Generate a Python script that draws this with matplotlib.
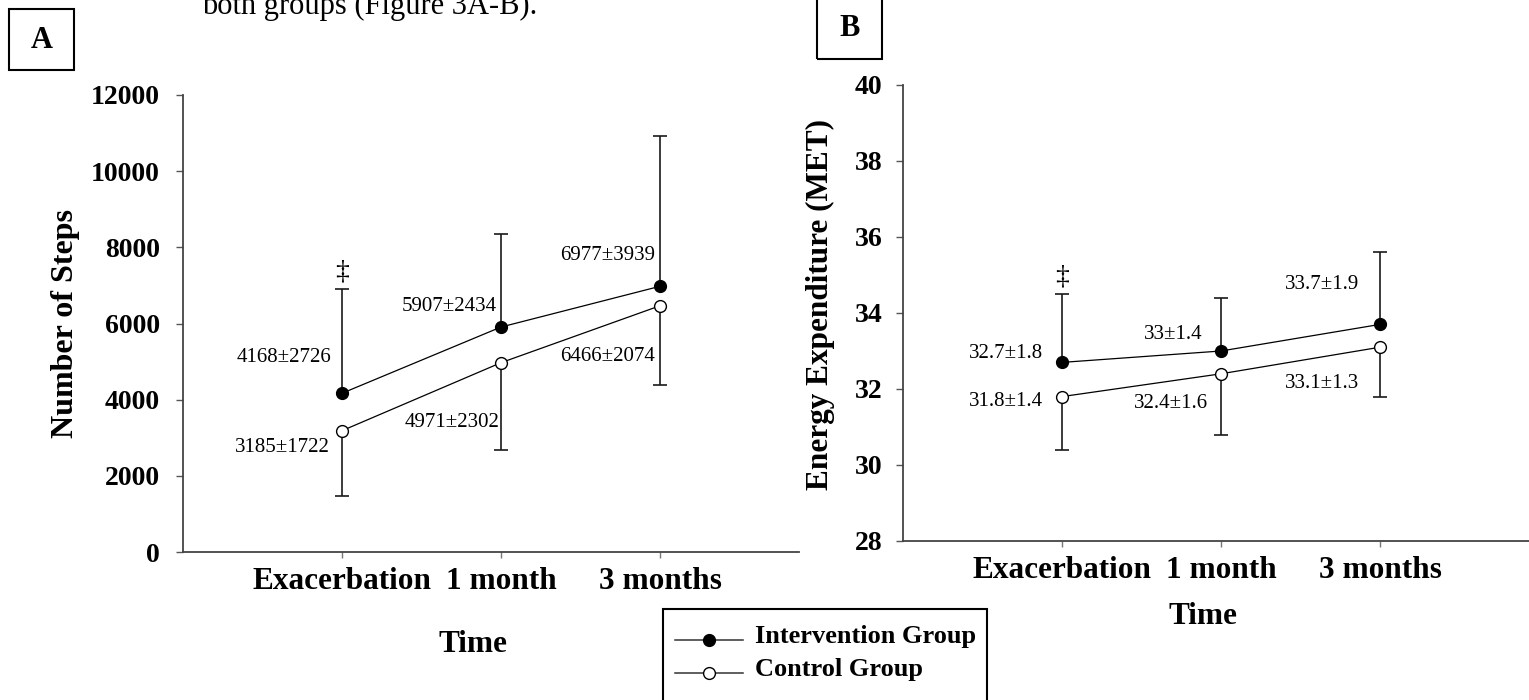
import numpy as np
import matplotlib
matplotlib.use("Agg")
from matplotlib import pyplot as plt
from matplotlib.patches import Rectangle
from matplotlib.lines import Line2D

plt.rcParams['font.family'] = ['Liberation Serif', 'DejaVu Serif']

# data
timepoints = ["Exacerbation", "1 month", "3 months"]
steps_interv = [4168, 5907, 6977]
steps_interv_sd = [2726, 2434, 3939]
steps_ctrl = [3185, 4971, 6466]
steps_ctrl_sd = [1722, 2302, 2074]
met_interv = [32.7, 33.0, 33.7]
met_interv_sd = [1.8, 1.4, 1.9]
met_ctrl = [31.8, 32.4, 33.1]
met_ctrl_sd = [1.4, 1.6, 1.3]
steps_ticks = [0, 2000, 4000, 6000, 8000, 10000, 12000]
met_ticks = [28, 30, 32, 34, 36, 38, 40]
groups = ["Intervention Group", "Control Group"]

W, H = 1529, 700
fig = plt.figure(figsize=(W / 100, H / 100), dpi=100)

# label offsets (points) relative to each mean
offA_i = [(-8, 26), (-3, 14.5), (-3.6, 22.5)]
offA_c = [(-8.6, -12), (-1.4, -43), (-3.6, -36.5)]
offB_i = [(-13.7, 6.5), (-13, 12.2), (-15, 29)]
offB_c = [(-13.7, -3.6), (-9.4, -21.6), (-15, -26)]


def panel(ax, mi, si, mc, sc, ticks, xmax, off_i, off_c, ypad):
    x = np.arange(1, len(timepoints) + 1)
    mi, si, mc, sc = map(np.asarray, (mi, si, mc, sc))
    zero = np.zeros_like(si)
    # error bars: intervention upward, control downward
    eb = ax.errorbar(x, mi, yerr=[zero, si], fmt='none', ecolor='#1a1a1a',
                     elinewidth=1.2, capsize=5, capthick=1.2, zorder=2)
    eb[1][0].set_visible(False)
    eb = ax.errorbar(x, mc, yerr=[sc, zero * sc], fmt='none', ecolor='#1a1a1a',
                     elinewidth=1.2, capsize=5, capthick=1.2, zorder=2)
    eb[1][1].set_visible(False)
    ax.plot(x, mi, '-o', color='black', lw=0.9, ms=8.5,
            mfc='black', mec='black', zorder=3)
    ax.plot(x, mc, '-o', color='black', lw=0.9, ms=8.5,
            mfc='white', mec='black', mew=1.0, zorder=3)
    for k in range(len(x)):
        ax.annotate('{:g}\u00b1{:g}'.format(mi[k], si[k]), xy=(x[k], mi[k]),
                    xytext=off_i[k], textcoords='offset points',
                    ha='right', va='center', fontsize=15)
        ax.annotate('{:g}\u00b1{:g}'.format(mc[k], sc[k]), xy=(x[k], mc[k]),
                    xytext=off_c[k], textcoords='offset points',
                    ha='right', va='center', fontsize=15)
    ax.annotate('\u2021', xy=(x[0], mi[0] + si[0]), xytext=(0, 12.5),
                textcoords='offset points', ha='center', va='center',
                fontsize=20)
    ax.set_xlim(0, xmax)
    ax.set_ylim(ticks[0], ticks[-1])
    ax.set_yticks(ticks)
    ax.set_xticks(x)
    ax.set_xticklabels(timepoints, fontweight='bold', fontsize=22.5)
    for lab in ax.get_yticklabels():
        lab.set_fontweight('bold')
    for s in ['top', 'right']:
        ax.spines[s].set_visible(False)
    for s in ['left', 'bottom']:
        ax.spines[s].set_color('#444')
        ax.spines[s].set_linewidth(1.3)
    ax.tick_params(axis='y', direction='out', length=5, width=1,
                   color='#555', labelsize=20, pad=ypad)
    ax.tick_params(axis='x', direction='out', length=4.5, width=1,
                   color='#777', pad=6.5)


axA = fig.add_axes([183 / W, 1 - 552 / H, (799 - 183) / W, (552 - 95) / H])
axB = fig.add_axes([903 / W, 1 - 541 / H, (W - 903) / W, (541 - 85) / H])
panel(axA, steps_interv, steps_interv_sd, steps_ctrl, steps_ctrl_sd,
      steps_ticks, 616 / 159, offA_i, offA_c, 11.5)
panel(axB, met_interv, met_interv_sd, met_ctrl, met_ctrl_sd,
      met_ticks, 626 / 159, offB_i, offB_c, 10)

# axis titles
fig.text(66 / W, 1 - 324 / H, 'Number of Steps', rotation=90, ha='center',
         va='center', fontsize=23, fontweight='bold')
fig.text(820 / W, 1 - 305 / H, 'Energy Expenditure (MET)', rotation=90,
         ha='center', va='center', fontsize=22.5, fontweight='bold')
fig.text(473 / W, 1 - 644 / H, 'Time', ha='center', va='center',
         fontsize=22.5, fontweight='bold')
fig.text(1203 / W, 1 - 617 / H, 'Time', ha='center', va='center',
         fontsize=22.5, fontweight='bold')

# panel letters in boxes
fig.patches.append(Rectangle((9 / W, 1 - 70 / H), 65 / W, 61 / H,
                             transform=fig.transFigure, fill=False,
                             ec='black', lw=1.5))
fig.text(41.5 / W, 1 - 40 / H, 'A', ha='center', va='center',
         fontsize=22, fontweight='bold')
fig.patches.append(Rectangle((817 / W, 1 - 59 / H), 65 / W, 70 / H,
                             transform=fig.transFigure, fill=False,
                             ec='black', lw=1.5))
fig.text(849.5 / W, 1 - 29 / H, 'B', ha='center', va='center',
         fontsize=22, fontweight='bold')

# leftover text line from the page (cut by the top edge)
fig.text(202 / W, 1 - 14 / H, 'both groups (Figure 3A-B).', ha='left',
         va='baseline', fontsize=22)

# legend box, open at the bottom edge of the picture
fig.patches.append(Rectangle((663 / W, -0.02), (987 - 663) / W,
                             1 - 609 / H + 0.02, transform=fig.transFigure,
                             fill=False, ec='black', lw=1.5))
for row, (name, face) in enumerate(zip(groups, ['black', 'white'])):
    yy = 1 - (640 + 33 * row) / H
    fig.add_artist(Line2D([675 / W, 743 / W], [yy, yy], color='#333',
                          lw=1.1, transform=fig.transFigure))
    fig.add_artist(Line2D([709 / W], [yy], marker='o', ms=8.5, mfc=face,
                          mec='black', mew=1.0, transform=fig.transFigure))
    fig.text(755 / W, yy - 3 / H, name, ha='left', va='baseline',
             fontsize=19, fontweight='bold')

fig.savefig('out.png', dpi=100)
